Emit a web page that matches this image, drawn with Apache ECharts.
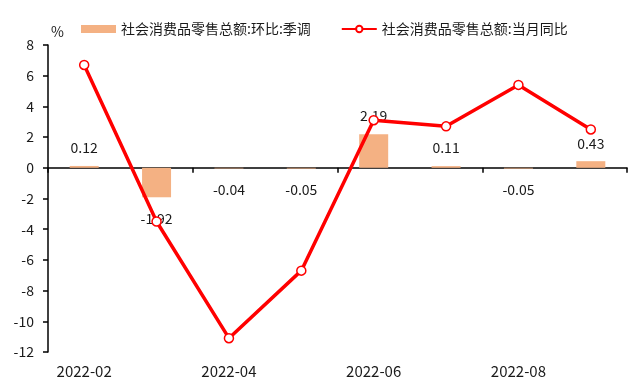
<!DOCTYPE html>
<html><head><meta charset="utf-8">
<script src="https://cdn.jsdelivr.net/npm/echarts@6/dist/echarts.min.js"></script>
<style>html,body{margin:0;padding:0;background:#fff}#c{width:640px;height:384px}</style>
</head><body><div id="c"></div>
<script>
const categories = ['2022-02','2022-03','2022-04','2022-05','2022-06','2022-07','2022-08','2022-09'];
const momSA = [0.12, -1.92, -0.04, -0.05, 2.19, 0.11, -0.05, 0.43];
const yoy = [6.7, -3.5, -11.1, -6.7, 3.1, 2.7, 5.4, 2.5];
const barName = '社会消费品零售总额:环比:季调';
const lineName = '社会消费品零售总额:当月同比';
const yTicks = {min: -12, max: 8, interval: 2};

const font = "'Noto Sans CJK SC', 'Microsoft YaHei', sans-serif";
const txt = '#1a1a1a';
const chart = echarts.init(document.getElementById('c'), null, {renderer: 'canvas'});
chart.setOption({
  animation: false,
  textStyle: {fontFamily: font},
  legend: {
    left: 76, top: 17, itemGap: 30, itemWidth: 35, itemHeight: 8,
    textStyle: {fontSize: 14, color: txt, fontFamily: font},
    data: [{name: barName, icon: 'rect'}, {name: lineName}]
  },
  grid: {left: 48, right: 13, top: 45, bottom: 32},
  xAxis: [{
    type: 'category', data: categories,
    axisLine: {onZero: true, lineStyle: {color: '#000', width: 1.5}},
    axisTick: {show: true, interval: 1, length: 5, lineStyle: {color: '#000', width: 1.5}},
    axisLabel: {show: false}
  }, {
    type: 'category', data: categories, position: 'bottom',
    axisLine: {show: false, onZero: false}, axisTick: {show: false},
    axisLabel: {interval: 1, margin: 12, fontSize: 15, color: txt, fontFamily: font}
  }],
  yAxis: {
    type: 'value', min: yTicks.min, max: yTicks.max, interval: yTicks.interval,
    name: '%', nameGap: 6, nameTextStyle: {fontSize: 14, color: txt, align: 'left', padding: [0,0,0,3]},
    axisLine: {show: true, lineStyle: {color: '#000', width: 1.5}},
    axisTick: {show: true, length: 5, lineStyle: {color: '#000', width: 1.5}},
    axisLabel: {fontSize: 14, color: txt, margin: 14, fontFamily: font},
    splitLine: {show: false}
  },
  series: [{
    name: barName, type: 'bar', xAxisIndex: 0, barWidth: 29,
    itemStyle: {color: '#F4B183'},
    data: momSA.map(v => ({
      value: v,
      label: {show: true, position: v >= 0 ? 'top' : 'bottom', distance: v >= 0 ? 11 : 14,
        fontSize: 14, color: txt, fontFamily: font}
    })),
    z: 1
  }, {
    name: lineName, type: 'line', xAxisIndex: 0, data: yoy,
    symbol: 'circle', symbolSize: 9,
    lineStyle: {color: '#FF0000', width: 3.5},
    itemStyle: {color: '#fff', borderColor: '#FF0000', borderWidth: 1.5},
    z: 3
  }]
});
</script></body></html>
